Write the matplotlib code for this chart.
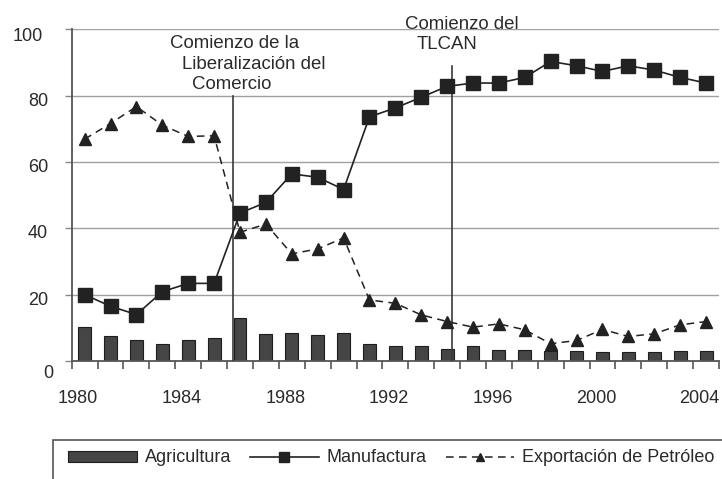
import matplotlib
matplotlib.use("Agg")
import matplotlib.pyplot as plt
import matplotlib.transforms as mtransforms
from matplotlib.patches import Rectangle
import numpy as np

years = list(range(1980, 2005))
agricultura = [10.4, 7.4, 6.2, 5.2, 6.2, 6.9, 12.9, 8.0, 8.5, 7.8, 8.3,
               5.2, 4.5, 4.5, 3.7, 4.6, 3.4, 3.4, 3.0, 3.0, 2.6, 2.6, 2.6, 3.0, 3.0]
manufactura = [20.0, 16.5, 14.0, 20.9, 23.4, 23.4, 44.6, 47.8, 56.4, 55.4, 51.7,
               73.6, 76.3, 79.5, 82.8, 83.8, 83.8, 85.5, 90.3, 89.0, 87.3, 89.0, 87.7, 85.5, 83.8]
petroleo = [66.9, 71.6, 76.7, 71.1, 67.7, 67.9, 38.8, 41.3, 32.3, 33.8, 37.1,
            18.4, 17.4, 13.9, 11.9, 10.2, 11.2, 9.4, 5.2, 6.2, 9.5, 7.4, 8.2, 10.9, 11.9]
x_tick_years = [1980, 1984, 1988, 1992, 1996, 2000, 2004]
y_ticks = [0, 20, 40, 60, 80, 100]
series_labels = ["Agricultura", "Manufactura", "Exportación de Petróleo"]
events_x = [1985.72, 1994.17]
events_top = [80, 89]

plt.rcParams['font.family'] = ['Liberation Sans', 'DejaVu Sans']
TXT = '#2a2a2a'
DARK = '#222222'

fig = plt.figure(figsize=(7.22, 4.79), dpi=100)
ax = fig.add_axes([71.7/722, 1-361/479, (719-71.7)/722, (361-29.3)/479])
ax.set_xlim(1979.5, 2004.5)
ax.set_ylim(0, 100)

for y in y_ticks[1:]:
    ax.axhline(y, color='#a0a0a0', lw=1.0, zorder=0)

h_bar = ax.bar(years, agricultura, width=0.5, color='#454545', edgecolor='#1e1e1e',
               linewidth=0.8, zorder=2, label=series_labels[0])
h_man, = ax.plot(years, manufactura, color=DARK, lw=1.2, marker='s', ms=9.5,
                 mfc=DARK, mec=DARK, zorder=4, label=series_labels[1])
h_pet, = ax.plot(years, petroleo, color=DARK, lw=1.1, ls=(0, (5, 3.5)), marker='^', ms=8,
                 mfc=DARK, mec=DARK, zorder=4, label=series_labels[2])

for xe, te in zip(events_x, events_top):
    ax.plot([xe, xe], [0, te], color='#3a3a3a', lw=1.2, zorder=3)

# annotations
ax.text(1983.3, 94.5, "Comienzo de la", fontsize=13.4, color=TXT, ha='left', va='baseline')
ax.text(1983.76, 88.1, "Liberalización del", fontsize=13.4, color=TXT, ha='left', va='baseline')
ax.text(1984.15, 82.1, "Comercio", fontsize=13.4, color=TXT, ha='left', va='baseline')
ax.text(1992.37, 100.2, "Comienzo del", fontsize=13.4, color=TXT, ha='left', va='baseline', clip_on=False)
ax.text(1992.83, 94.1, "TLCAN", fontsize=13.4, color=TXT, ha='left', va='baseline')

# spines
for s in ['top', 'right']:
    ax.spines[s].set_visible(False)
ax.spines['left'].set_color('#555555')
ax.spines['bottom'].set_color('#555555')
ax.spines['left'].set_linewidth(1.3)
ax.spines['bottom'].set_linewidth(1.3)

# x ticks
ax.set_xticks(x_tick_years)
ax.set_xticklabels([str(v) for v in x_tick_years], fontsize=13, color=TXT)
ax.tick_params(axis='x', which='major', length=0, pad=21)
ax.set_xticks(np.arange(1979.5, 2005, 1.0), minor=True)
ax.tick_params(axis='x', which='minor', length=6, width=1.2, color='#555555', direction='out')
off = mtransforms.ScaledTranslation(-6.5/100, 0, fig.dpi_scale_trans)
for lab in ax.get_xticklabels():
    lab.set_transform(lab.get_transform() + off)

# y ticks (labels drawn as text)
ax.set_yticks(y_ticks)
ax.set_yticklabels([])
ax.tick_params(axis='y', length=5, width=1.0, color='#888888', direction='out')
ylab_dx = {0: 5, 100: -5}
ylab_dy = {0: 12.3, 100: 7.0}
for v in y_ticks:
    dx = ylab_dx.get(v, 0) / 100
    dy = ylab_dy.get(v, 5.5) / 100
    tr = ax.get_yaxis_transform() + mtransforms.ScaledTranslation(
        -(71.7 - 48) / 100 + dx, -dy, fig.dpi_scale_trans)
    ax.text(0, v, str(v), transform=tr, fontsize=13, color=TXT, ha='right', va='center')

# legend
leg = fig.legend(handles=[h_bar, h_man, h_pet], labels=series_labels,
                 loc='center left', bbox_to_anchor=(68/722, 1-458/479), ncol=3,
                 frameon=False, fontsize=13, handlelength=3.8, handleheight=0.55,
                 handletextpad=0.45, columnspacing=1.05, borderpad=0, borderaxespad=0,
                 markerscale=0.7)
for t in leg.get_texts():
    t.set_color(TXT)
fig.patches.append(Rectangle((53/722, -0.2), 1.2, 0.2 + (479-440)/479, transform=fig.transFigure,
                             fill=False, edgecolor='#555555', linewidth=1.2))

fig.savefig("out.png", dpi=100)
